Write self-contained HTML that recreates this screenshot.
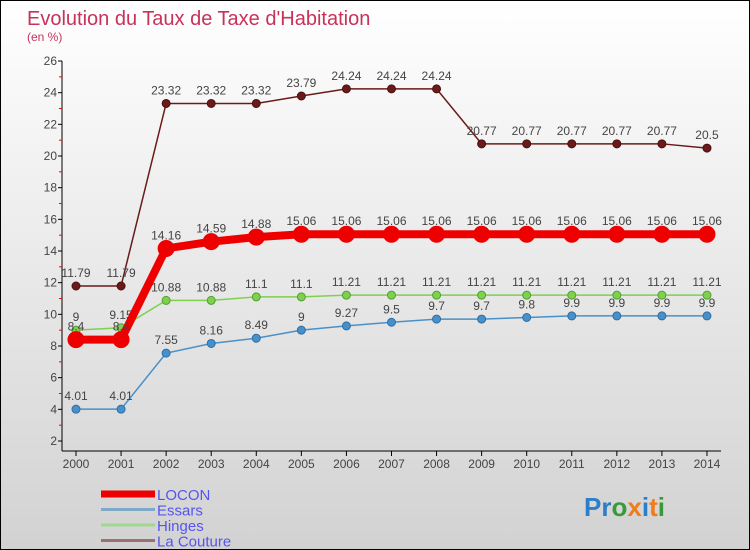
<!DOCTYPE html>
<html><head><meta charset="utf-8"><style>
body{margin:0;}
#c{width:750px;height:550px;box-sizing:border-box;border:1px solid #000;background:linear-gradient(#ffffff,#d2d2d2);position:relative;overflow:hidden;font-family:"Liberation Sans",sans-serif;}
svg{position:absolute;left:0;top:0;}
</style></head><body>
<div id="c">
<svg id="s" width="750" height="550">
<text x="26" y="24" font-size="20" fill="#c8325a">Evolution du Taux de Taxe d'Habitation</text>
<text x="26" y="40" font-size="12" fill="#c8325a">(en %)</text>
<g id="axes"></g><g id="series"></g><g id="legend"></g>
<text x="583" y="515" font-size="26" font-weight="bold"><tspan fill="#2a7fc8">Pr</tspan><tspan fill="#3a9a3a">o</tspan><tspan fill="#f07c1a">x</tspan><tspan fill="#2a7fc8">i</tspan><tspan fill="#f07c1a">t</tspan><tspan fill="#3a9a3a">i</tspan></text>
</svg></div>
<script>
const years=[2000,2001,2002,2003,2004,2005,2006,2007,2008,2009,2010,2011,2012,2013,2014];
const yTicks=[2,4,6,8,10,12,14,16,18,20,22,24,26];
const locon=[8.4,8.4,14.16,14.59,14.88,15.06,15.06,15.06,15.06,15.06,15.06,15.06,15.06,15.06,15.06];
const essars=[4.01,4.01,7.55,8.16,8.49,9,9.27,9.5,9.7,9.7,9.8,9.9,9.9,9.9,9.9];
const hinges=[9,9.15,10.88,10.88,11.1,11.1,11.21,11.21,11.21,11.21,11.21,11.21,11.21,11.21,11.21];
const couture=[11.79,11.79,23.32,23.32,23.32,23.79,24.24,24.24,24.24,20.77,20.77,20.77,20.77,20.77,20.5];
const NS="http://www.w3.org/2000/svg";
const xS=i=>75+i*45.07;
const yS=v=>440-(v-2)*15.833;
function mk(t,a,p){const e=document.createElementNS(NS,t);for(const k in a)e.setAttribute(k,a[k]);p.appendChild(e);return e;}
const ax=document.getElementById('axes');
const ya=mk('line',{x1:61,y1:60,x2:61,y2:450,stroke:'#000'},ax);


const xa=mk('line',{x1:61,y1:450,x2:720,y2:450,stroke:'#000'},ax);


yTicks.forEach((v,i)=>{
 mk('line',{x1:57,y1:yS(v),x2:61,y2:yS(v),stroke:'#000'},ax);
 if(i<yTicks.length-1)mk('line',{x1:58,y1:yS(v+1),x2:61,y2:yS(v+1),stroke:'#f00'},ax);
 const t=mk('text',{x:56,y:yS(v)+4,'font-size':12,fill:'#444','text-anchor':'end'},ax);t.textContent=v;
 
 
});
years.forEach((y,i)=>{
 mk('line',{x1:xS(i),y1:450,x2:xS(i),y2:455,stroke:'#000'},ax);
 const t=mk('text',{x:xS(i),y:467,'font-size':12,fill:'#444','text-anchor':'middle'},ax);t.textContent=y;
 
 
});
const sg=document.getElementById('series');
function draw(vals,color,w,r,name,dark){
 const g=mk('g',{},sg);
 
 
 const p=mk('polyline',{points:vals.map((v,i)=>xS(i)+','+yS(v)).join(' '),fill:'none',stroke:color,'stroke-width':w},g);
 
 
 vals.forEach((v,i)=>{
  const c=mk('circle',{cx:xS(i),cy:yS(v),r:r,fill:color,stroke:dark,'stroke-width':1},g);
  
  
  const t=mk('text',{x:xS(i),y:yS(v)-9,'font-size':12,fill:'#444','text-anchor':'middle'},g);t.textContent=v;
  
  
 });
}
draw(couture,'#6b1a1a',1.5,4,'la-couture','#4a1010');
draw(essars,'#4a90c8',1.5,4,'essars','#2a6fa8');
draw(hinges,'#80d050',1.5,4,'hinges','#50a030');
draw(locon,'#ee0000',8,8,'locon','#ee0000');
const lg=document.getElementById('legend');
const items=[['LOCON','#ee0000',7],['Essars','#80a8c8',3],['Hinges','#a0d890',3],['La Couture','#9a7070',3]];
items.forEach((it,i)=>{
 const y=493+i*15.5;
 const l=mk('line',{x1:100,y1:y,x2:154,y2:y,stroke:it[1],'stroke-width':it[2]},lg);
 
 
 const t=mk('text',{x:156,y:y+6,'font-size':15,fill:'#5555ee'},lg);t.textContent=it[0];
 
 
});
</script></body></html>
